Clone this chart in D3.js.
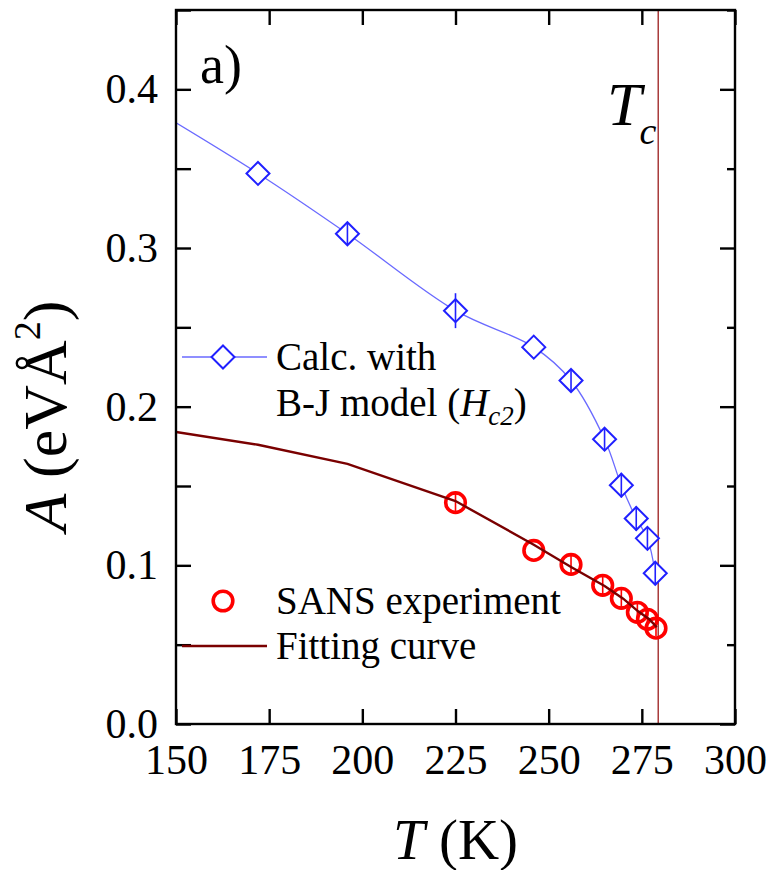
<!DOCTYPE html>
<html>
<head>
<meta charset="utf-8">
<script src="https://cdn.jsdelivr.net/npm/d3@7"></script>
<style>
  html, body { margin: 0; padding: 0; background: #fff; }
  svg { display: block; }
</style>
</head>
<body>
<svg id="chart" width="767" height="870"></svg>
<script>
// Temperature (K) and A (eV Å^2): B-J model calculation (diamonds, spline)
const calcT   = [145, 172, 196, 225, 246, 256, 265, 269.5, 273.5, 276.5, 278.6];
const calcA   = [0.386, 0.347, 0.309, 0.2605, 0.2375, 0.2165, 0.1795, 0.1505, 0.1295, 0.117, 0.095];
const calcErr = [0, 0, 0.007, 0.011, 0, 0.007, 0.007, 0.0078, 0.0076, 0.007, 0.0072];

// SANS experiment (open circles)
const sansT   = [225, 246, 256, 264.5, 269.5, 273.8, 276.5, 278.8];
const sansA   = [0.1395, 0.1094, 0.1006, 0.0874, 0.0792, 0.0704, 0.066, 0.0604];
const sansErr = [0.006, 0, 0.006, 0.006, 0.006, 0.006, 0.005, 0.005];

// Fitting curve (polyline)
const fitT = [150, 172, 196, 225, 246, 256, 265, 270, 274, 277, 279];
const fitA = [0.184, 0.176, 0.164, 0.1405, 0.113, 0.099, 0.087, 0.079, 0.071, 0.066, 0.061];

// Critical temperature
const Tc = 279.4;

// Axis ticks
const xTicks = [150, 175, 200, 225, 250, 275, 300];
const yMajor = [0.0, 0.1, 0.2, 0.3, 0.4];
const yAll   = [0.0, 0.05, 0.1, 0.15, 0.2, 0.25, 0.3, 0.35, 0.4, 0.45];

const SERIF = "'Liberation Serif', 'Times New Roman', Times, 'DejaVu Serif', serif";

const svg = d3.select("#chart");
const L = 176, R = 735, Tp = 10, B = 724;

const x = d3.scaleLinear().domain([150, 300]).range([L, R]);
const y = d3.scaleLinear().domain([0, 0.45]).range([B, Tp]);

svg.append("rect").attr("width", 767).attr("height", 870).attr("fill", "#fff");

svg.append("defs").append("clipPath").attr("id", "plotclip")
  .append("rect").attr("x", L).attr("y", Tp).attr("width", R - L).attr("height", B - Tp);

const plot = svg.append("g").attr("clip-path", "url(#plotclip)");

// Tc marker line
plot.append("line")
  .attr("x1", x(Tc)).attr("x2", x(Tc))
  .attr("y1", y(0.45)).attr("y2", y(0))
  .attr("stroke", "#a83a3a").attr("stroke-width", 1.5);

// Calculated curve
const calcPts = calcT.map((t, i) => [t, calcA[i], calcErr[i]]);
plot.append("path")
  .datum(calcPts)
  .attr("fill", "none")
  .attr("stroke", "#6a6aff")
  .attr("stroke-width", 1.3)
  .attr("d", d3.line().x(d => x(d[0])).y(d => y(d[1])).curve(d3.curveCatmullRom.alpha(0.5)));

// Diamonds with error bars
const dH = 11.5;
const dg = plot.selectAll("g.calc").data(calcPts).join("g").attr("class", "calc")
  .attr("transform", d => `translate(${x(d[0])},${y(d[1])})`);
dg.append("path")
  .attr("d", `M0,${-dH}L${dH},0L0,${dH}L${-dH},0Z`)
  .attr("fill", "#fff").attr("stroke", "#2020ff").attr("stroke-width", 2);
dg.filter(d => d[2] > 0).append("line")
  .attr("x1", 0).attr("x2", 0)
  .attr("y1", d => y(d[1] + d[2]) - y(d[1]))
  .attr("y2", d => y(d[1] - d[2]) - y(d[1]))
  .attr("stroke", "#2020ff").attr("stroke-width", 1.6);

// SANS circles
const sansPts = sansT.map((t, i) => [t, sansA[i], sansErr[i]]);
const cg = plot.selectAll("g.sans").data(sansPts).join("g").attr("class", "sans")
  .attr("transform", d => `translate(${x(d[0])},${y(d[1])})`);
cg.append("circle").attr("r", 9.8)
  .attr("fill", "none").attr("stroke", "#ff0000").attr("stroke-width", 3.6);
cg.filter(d => d[2] > 0).append("line")
  .attr("x1", 0).attr("x2", 0)
  .attr("y1", d => y(d[1] + d[2]) - y(d[1]))
  .attr("y2", d => y(d[1] - d[2]) - y(d[1]))
  .attr("stroke", "#ff0000").attr("stroke-width", 1.6);

// Fitting curve
plot.append("path")
  .datum(fitT.map((t, i) => [t, fitA[i]]))
  .attr("fill", "none")
  .attr("stroke", "#7a0000")
  .attr("stroke-width", 2.4)
  .attr("d", d3.line().x(d => x(d[0])).y(d => y(d[1])));

// Axes (ticks pointing inward)
const fontTick = 42;
const styleAxis = g => {
  g.select(".domain").remove();
  g.attr("font-family", null).attr("font-size", null);
  g.selectAll(".tick line").attr("stroke", "#000").attr("stroke-width", 2.4);
  g.selectAll(".tick text").attr("fill", "#000")
    .style("font-family", SERIF).style("font-size", fontTick + "px");
};

svg.append("g").attr("transform", `translate(0,${B})`)
  .call(d3.axisBottom(x).tickValues(xTicks).tickSize(-15).tickPadding(20).tickFormat(d3.format("d")))
  .call(styleAxis);

svg.append("g").attr("transform", `translate(0,${Tp})`)
  .call(d3.axisTop(x).tickValues(xTicks).tickSize(-15).tickFormat(""))
  .call(styleAxis);

svg.append("g").attr("transform", `translate(${L},0)`)
  .call(d3.axisLeft(y).tickValues(yAll).tickSize(-15).tickPadding(18)
    .tickFormat(d => yMajor.some(v => Math.abs(v - d) < 1e-9) ? d3.format(".1f")(d) : ""))
  .call(styleAxis);

const rightAxis = svg.append("g").attr("transform", `translate(${R},0)`)
  .call(d3.axisRight(y).tickValues(yAll).tickSize(-15).tickFormat(""))
  .call(styleAxis);
rightAxis.selectAll(".tick line")
  .attr("x2", d => yMajor.some(v => Math.abs(v - d) < 1e-9) ? -15 : -8);

// Frame
svg.append("rect")
  .attr("x", L).attr("y", Tp).attr("width", R - L).attr("height", B - Tp)
  .attr("fill", "none").attr("stroke", "#000").attr("stroke-width", 2.4);

// Text helper with serif face
const txt = (sel) => sel.append("text").style("font-family", SERIF).attr("fill", "#000");

// Axis titles
const xt = txt(svg).attr("x", (L + R) / 2).attr("y", 859)
  .attr("text-anchor", "middle").style("font-size", "57px");
xt.append("tspan").style("font-style", "italic").text("T");
xt.append("tspan").text(" (K)");

const yt = txt(svg)
  .attr("transform", `translate(66,416) rotate(-90)`)
  .attr("text-anchor", "middle").style("font-size", "62px");
yt.append("tspan").style("font-style", "italic").text("A");
yt.append("tspan").text(" (eVÅ");
yt.append("tspan").style("font-size", "38px").attr("dy", -26).text("2");
yt.append("tspan").attr("dy", 26).text(")");

// Panel label
txt(svg).attr("x", 200).attr("y", 83).style("font-size", "54px").text("a)");

// Tc label
const tcl = txt(svg).attr("x", 607).attr("y", 125).style("font-size", "62px")
  .style("font-style", "italic");
tcl.append("tspan").text("T");
tcl.append("tspan").style("font-size", "38px").attr("dx", -2).attr("dy", 19).text("c");

// Legend
const lf = "39px";
svg.append("line").attr("x1", 182).attr("x2", 267).attr("y1", 357).attr("y2", 357)
  .attr("stroke", "#6a6aff").attr("stroke-width", 1.6);
svg.append("path")
  .attr("d", `M223,${357 - dH}L${223 + dH},357L223,${357 + dH}L${223 - dH},357Z`)
  .attr("fill", "#fff").attr("stroke", "#2020ff").attr("stroke-width", 2);
txt(svg).attr("x", 276).attr("y", 370).style("font-size", lf).text("Calc. with");
const l2 = txt(svg).attr("x", 276).attr("y", 416).style("font-size", lf);
l2.append("tspan").text("B-J model (");
l2.append("tspan").style("font-style", "italic").text("H");
l2.append("tspan").style("font-style", "italic").style("font-size", "27px").attr("dy", 9).text("c2");
l2.append("tspan").attr("dy", -9).text(")");

svg.append("circle").attr("cx", 223).attr("cy", 601).attr("r", 9.8)
  .attr("fill", "none").attr("stroke", "#ff0000").attr("stroke-width", 3.6);
txt(svg).attr("x", 276).attr("y", 614).style("font-size", lf).text("SANS experiment");

svg.append("line").attr("x1", 182).attr("x2", 267).attr("y1", 646).attr("y2", 646)
  .attr("stroke", "#7a0000").attr("stroke-width", 2.6);
txt(svg).attr("x", 276).attr("y", 659).style("font-size", lf).text("Fitting curve");
</script>
</body>
</html>
